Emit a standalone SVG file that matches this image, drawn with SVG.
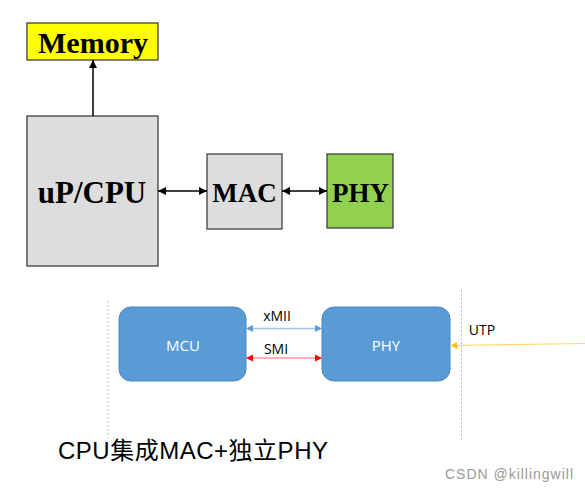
<svg xmlns="http://www.w3.org/2000/svg" width="585" height="491" viewBox="0 0 585 491">
<defs>
<style>
.box{stroke:#404040;stroke-width:1.3}
.big{font-family:"Liberation Serif","Times New Roman",serif;font-weight:bold;fill:#000;text-anchor:middle}
.blue{fill:#5B9BD5;stroke:#4A86BE;stroke-width:1}
.lbl{font-family:"Open Sans","Liberation Sans",sans-serif;font-size:14px;text-anchor:middle;fill:#000}
.inlbl{font-family:"Open Sans","Liberation Sans",sans-serif;font-size:15px;fill:#fff;text-anchor:middle}
.dash{stroke:#A9C4E3;stroke-width:1;stroke-dasharray:2,2}
</style>
<marker id="ab" viewBox="0 0 10 10" refX="10" refY="5" markerWidth="8" markerHeight="8" orient="auto-start-reverse" markerUnits="userSpaceOnUse"><path d="M0,0 L10,5 L0,10 z" fill="#000"/></marker>
<marker id="abl" viewBox="0 0 10 10" refX="10" refY="5" markerWidth="7" markerHeight="7" orient="auto-start-reverse" markerUnits="userSpaceOnUse"><path d="M0,0 L10,5 L0,10 z" fill="#5B9BD5"/></marker>
<marker id="ar" viewBox="0 0 10 10" refX="10" refY="5" markerWidth="7" markerHeight="7" orient="auto-start-reverse" markerUnits="userSpaceOnUse"><path d="M0,0 L10,5 L0,10 z" fill="#FF0000"/></marker>
<marker id="ay" viewBox="0 0 10 10" refX="10" refY="5" markerWidth="7" markerHeight="7" orient="auto-start-reverse" markerUnits="userSpaceOnUse"><path d="M0,0 L10,5 L0,10 z" fill="#FFC000"/></marker>
</defs>
<rect width="585" height="491" fill="#fff"/>
<g id="memory"><rect class="box" x="27" y="23" width="131" height="37" fill="#FFFF00"/><text class="big" x="93" y="53" font-size="30">Memory</text></g>
<g id="cpu"><rect class="box" x="27" y="116" width="131" height="150" fill="#DDDDDD"/><text class="big" x="92" y="203" font-size="31">uP/CPU</text></g>
<g id="mac"><rect class="box" x="207" y="154" width="75" height="75" fill="#DDDDDD"/><text class="big" x="244.5" y="202" font-size="27">MAC</text></g>
<g id="phy1"><rect class="box" x="327" y="154" width="66" height="74" fill="#92D050"/><text class="big" x="360.5" y="202" font-size="27">PHY</text></g>
<g id="mcu"><rect class="blue" x="119" y="307" width="127" height="74" rx="12"/><text class="inlbl" x="183" y="350.5">MCU</text></g>
<g id="phy2"><rect class="blue" x="322" y="307" width="128" height="74" rx="12"/><text class="inlbl" x="386" y="350.5">PHY</text></g>
<g id="connectors">
<line x1="93" y1="116" x2="93" y2="60" stroke="#000" stroke-width="1.5" marker-end="url(#ab)"/>
<line x1="158" y1="191" x2="207" y2="191" stroke="#000" stroke-width="1.5" marker-start="url(#ab)" marker-end="url(#ab)"/>
<line x1="282" y1="191" x2="327" y2="191" stroke="#000" stroke-width="1.5" marker-start="url(#ab)" marker-end="url(#ab)"/>
<line x1="246" y1="328.5" x2="322" y2="328.5" stroke="#9DC3E6" stroke-width="1.3" marker-start="url(#abl)" marker-end="url(#abl)"/>
<line x1="246" y1="358" x2="322" y2="358" stroke="#FF9999" stroke-width="1.3" marker-start="url(#ar)" marker-end="url(#ar)"/>
<line x1="585" y1="343.5" x2="450.5" y2="345.5" stroke="#FFD966" stroke-width="1.2" marker-end="url(#ay)"/>
</g>
<line class="dash" x1="108" y1="301" x2="108" y2="438"/>
<line class="dash" x1="461.5" y1="290" x2="461.5" y2="440"/>
<text class="lbl" x="277" y="321">xMII</text>
<text class="lbl" x="276" y="354">SMI</text>
<text class="lbl" x="482" y="335">UTP</text>
<text x="58" y="459" font-family="'Liberation Sans','Noto Sans CJK SC',sans-serif" font-size="24" textLength="270" fill="#000">CPU集成MAC+独立PHY</text>
<text x="445" y="479" font-family="'Liberation Sans',sans-serif" font-size="14" textLength="128" fill="#999">CSDN @killingwill</text>
</svg>
